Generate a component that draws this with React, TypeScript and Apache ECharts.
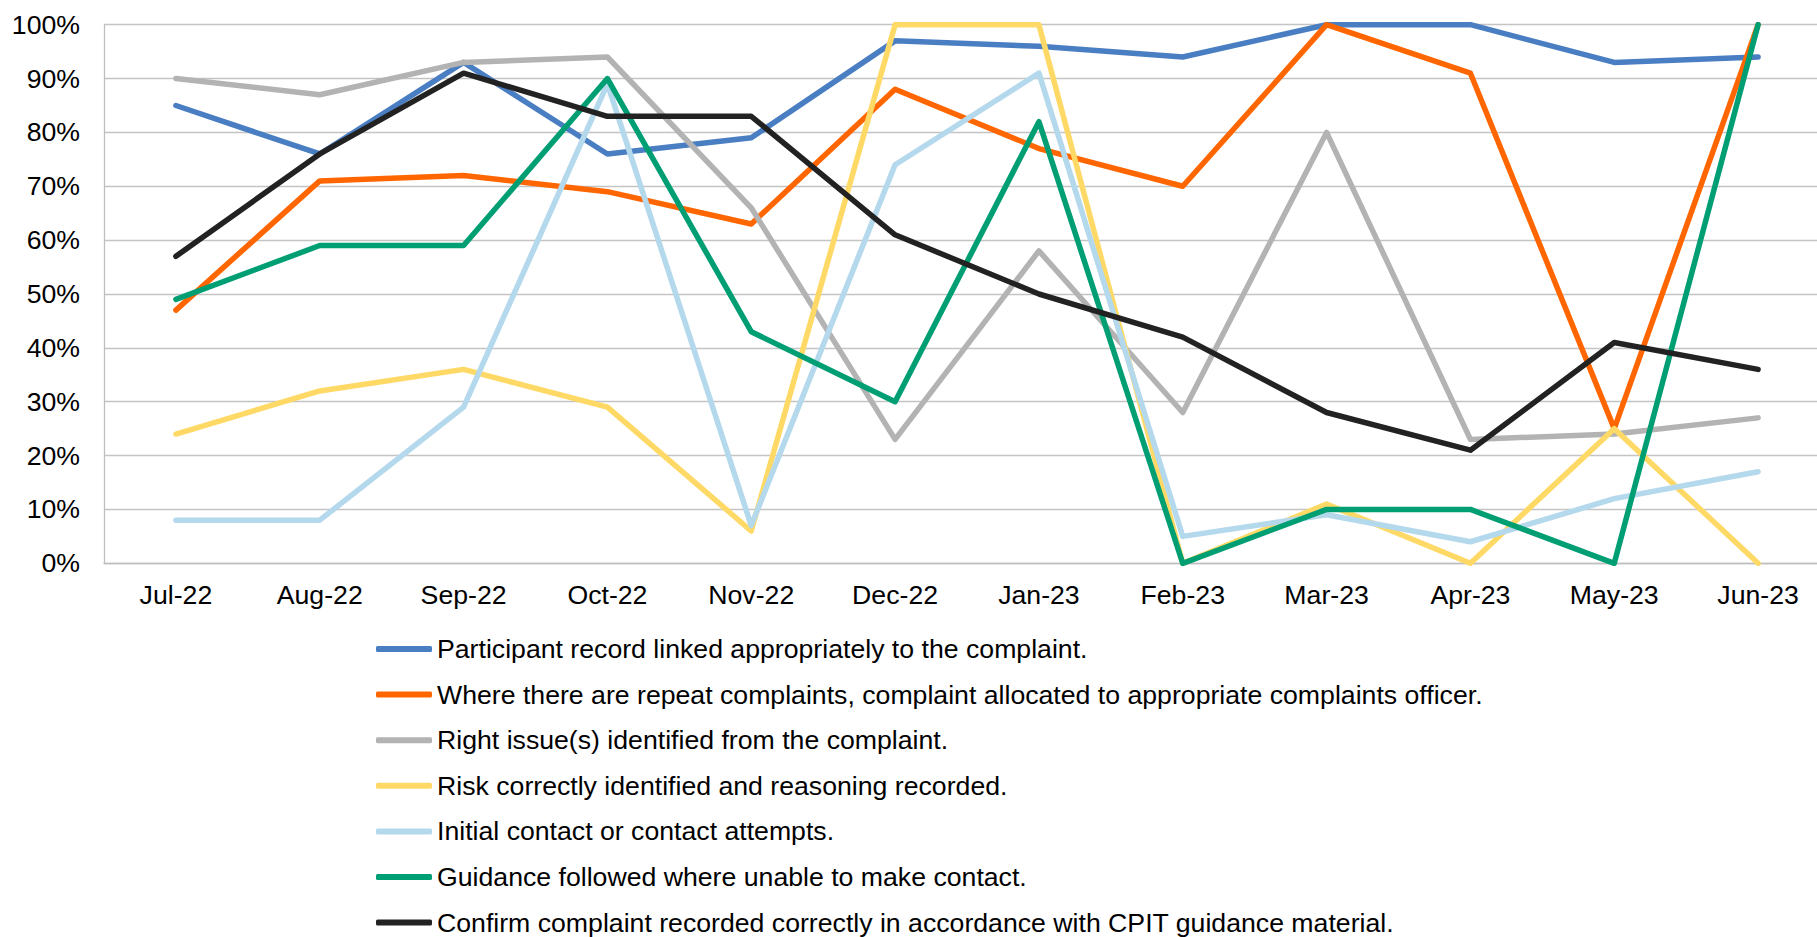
import React, { useEffect, useRef } from "react";
import * as echarts from "echarts";

// Monthly audit results, percentage of complaints meeting each check
const months = [
  "Jul-22", "Aug-22", "Sep-22", "Oct-22", "Nov-22", "Dec-22",
  "Jan-23", "Feb-23", "Mar-23", "Apr-23", "May-23", "Jun-23",
];

const seriesNames = [
  "Participant record linked appropriately to the complaint.",
  "Where there are repeat complaints, complaint allocated to appropriate complaints officer.",
  "Right issue(s) identified from the complaint.",
  "Risk correctly identified and reasoning recorded.",
  "Initial contact or contact attempts.",
  "Guidance followed where unable to make contact.",
  "Confirm complaint recorded correctly in accordance with CPIT guidance material.",
];

const participantLinked = [85, 76, 93, 76, 79, 97, 96, 94, 100, 100, 93, 94];
const repeatAllocated = [47, 71, 72, 69, 63, 88, 77, 70, 100, 91, 25, 100];
const rightIssues = [90, 87, 93, 94, 66, 23, 58, 28, 80, 23, 24, 27];
const riskIdentified = [24, 32, 36, 29, 6, 100, 100, 0, 11, 0, 25, 0];
const initialContact = [8, 8, 29, 89, 7, 74, 91, 5, 9, 4, 12, 17];
const guidanceFollowed = [49, 59, 59, 90, 43, 30, 82, 0, 10, 10, 0, 100];
const recordedCorrectly = [57, 76, 91, 83, 83, 61, 50, 42, 28, 21, 41, 36];

const seriesValues = [
  participantLinked,
  repeatAllocated,
  rightIssues,
  riskIdentified,
  initialContact,
  guidanceFollowed,
  recordedCorrectly,
];

const colors = ["#4a7ec2", "#ff6600", "#b3b3b3", "#ffd966", "#b4d8ec", "#009e73", "#222222"];

const yTicks = { min: 0, max: 100, interval: 10 };

const FONT = "'Liberation Sans', Arial, sans-serif";
const FONT_SIZE = 26.67;

export default function App() {
  const ref = useRef<HTMLDivElement>(null);

  useEffect(() => {
    if (!ref.current) return;
    const chart = echarts.init(ref.current, undefined, { renderer: "svg" });

    chart.setOption({
      animation: false,
      color: colors,
      textStyle: { fontFamily: FONT },
      grid: { left: 104, right: 10, top: 24.7, bottom: 373.7, containLabel: false },
      xAxis: {
        type: "category",
        data: months,
        boundaryGap: true,
        axisLine: { show: true, lineStyle: { color: "#bfbfbf", width: 1.3 } },
        axisTick: { show: false },
        axisLabel: {
          color: "#000",
          fontSize: FONT_SIZE,
          fontFamily: FONT,
          margin: 18,
          interval: 0,
        },
        splitLine: { show: false },
      },
      yAxis: {
        type: "value",
        min: yTicks.min,
        max: yTicks.max,
        interval: yTicks.interval,
        axisLine: { show: true, lineStyle: { color: "#bfbfbf", width: 1.3 } },
        axisTick: { show: false },
        axisLabel: {
          color: "#000",
          fontSize: FONT_SIZE,
          fontFamily: FONT,
          margin: 24,
          formatter: "{value}%",
        },
        splitLine: { show: true, lineStyle: { color: "#c4c4c4", width: 1.3 } },
      },
      legend: {
        orient: "vertical",
        left: 376,
        top: 634,
        height: 320,
        padding: 0,
        icon: "roundRect",
        itemWidth: 56,
        itemHeight: 6,
        itemGap: 15.6,
        data: seriesNames,
        textStyle: {
          color: "#000",
          fontSize: FONT_SIZE,
          fontFamily: FONT,
          lineHeight: 30,
        },
      },
      series: seriesNames.map((name, i) => ({
        name,
        type: "line",
        data: seriesValues[i],
        showSymbol: false,
        symbol: "none",
        lineStyle: { width: 5.5, color: colors[i], cap: "round", join: "round" },
        itemStyle: { color: colors[i] },
        z: 2 + i,
      })),
    });

    return () => chart.dispose();
  }, []);

  return (
    <div
      style={{
        position: "fixed",
        left: 0,
        top: 0,
        width: 1817,
        height: 937,
        overflow: "hidden",
        background: "#fff",
      }}
    >
      <div ref={ref} style={{ width: 1840, height: 937 }} />
    </div>
  );
}
